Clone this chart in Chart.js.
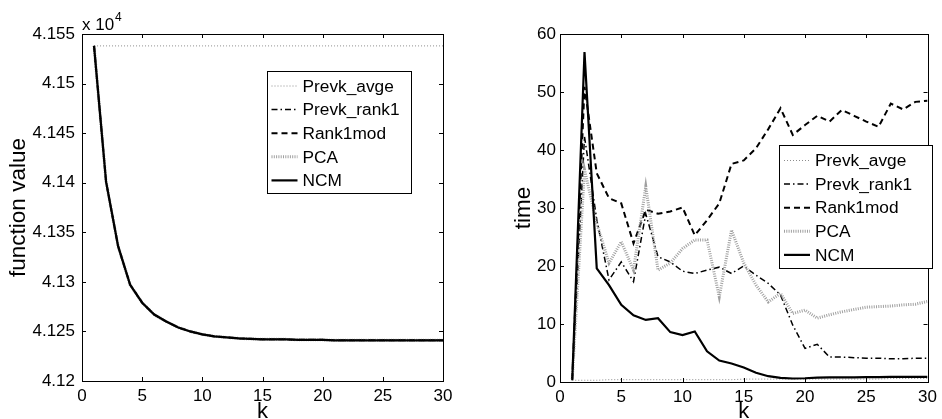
<!DOCTYPE html>
<html>
<head>
<meta charset="utf-8">
<script src="https://cdn.jsdelivr.net/npm/chart.js@4.4.1/dist/chart.umd.min.js"></script>
<style>
  html, body { margin: 0; padding: 0; background: #fff; }
  #wrap { position: relative; width: 942px; height: 419px; }
  .box { position: absolute; top: 0; height: 419px; }
</style>
</head>
<body>
<div id="wrap">
  <div class="box" style="left:0;width:470px"><canvas id="plot1" width="470" height="419"></canvas></div>
  <div class="box" style="left:470px;width:472px"><canvas id="plot2" width="472" height="419"></canvas></div>
</div>
<script>
// datos
const ks = [1,2,3,4,5,6,7,8,9,10,11,12,13,14,15,16,17,18,19,20,21,22,23,24,25,26,27,28,29,30];
const seriesNames = ["Prevk_avge", "Prevk_rank1", "Rank1mod", "PCA", "NCM"];

// izquierda: function value (x 10^4)
const fvAvge = [4.1538,4.1538,4.1538,4.1538,4.1538,4.1538,4.1538,4.1538,4.1538,4.1538,4.1538,4.1538,4.1538,4.1538,4.1538,4.1538,4.1538,4.1538,4.1538,4.1538,4.1538,4.1538,4.1538,4.1538,4.1538,4.1538,4.1538,4.1538,4.1538,4.1538];
const fvCurve = [4.1538,4.1401,4.1336,4.1297,4.1279,4.1267,4.1260,4.1254,4.1250,4.1247,4.1245,4.1244,4.1243,4.12425,4.1242,4.1242,4.1242,4.12415,4.12415,4.12415,4.1241,4.1241,4.1241,4.1241,4.1241,4.1241,4.1241,4.1241,4.1241,4.1241];
const leftYTicks = [4.12, 4.125, 4.13, 4.135, 4.14, 4.145, 4.15, 4.155];

// derecha: time
const tAvge = [0.3,0.3,0.3,0.4,0.4,0.4,0.4,0.4,0.4,0.4,0.4,0.4,0.4,0.4,0.5,0.5,0.5,0.5,0.5,0.5,0.5,0.5,0.5,0.5,0.5,0.5,0.6,0.6,0.6,0.6];
const tRank1 = [0.5,42.3,28,17.6,20.7,17.3,29,21.6,20.7,19.1,18.7,19.3,19.8,18.7,20,18.4,17,15,9.8,5.8,6.5,4.3,4.3,4.2,4.1,4.1,4.0,4.0,4.1,4.1];
const tRank1mod = [0.5,50.9,36,31.7,30.8,23.9,29.7,29,29.4,30.1,25.3,27.9,30.8,37.6,38.2,40.3,43.6,47.2,42.6,44.3,45.9,44.9,46.9,45.9,44.9,44,48,47,48.3,48.5];
const tPCA = [0.5,36.6,27.4,20.5,24.2,19.3,33.7,19.3,20.5,23,24.5,24.5,14.7,26.2,20.5,16.7,13.8,15.3,11.8,12.4,11,11.6,12.1,12.5,12.9,13,13.1,13.3,13.4,13.9];
const tNCM = [0.3,56.9,19.6,16.7,13.3,11.5,10.7,11.0,8.6,8.1,8.7,5.3,3.7,3.2,2.5,1.6,1.0,0.7,0.6,0.65,0.75,0.8,0.8,0.8,0.85,0.85,0.9,0.9,0.9,0.9];
const rightYTicks = [0, 10, 20, 30, 40, 50, 60];
const xTicks = [0, 5, 10, 15, 20, 25, 30];

const FONT = "'Liberation Sans', Arial, Helvetica, sans-serif";

// estilos de linea por serie
const estilos = [
  { color: "#8c8c8c", width: 1, dash: [1, 2] },
  { color: "#000", width: 1.5, dash: [6, 3, 1.5, 3] },
  { color: "#000", width: 2, dash: [6, 4] },
  { color: "#a0a0a0", width: 3, dash: [1, 1.3] },
  { color: "#000", width: 2.2, dash: [] },
];

let puntos = (ys) => ks.map((k, i) => ({ x: k, y: ys[i] }));

let armarDatasets = (listas) =>
  listas.map((ys, i) => ({
    label: seriesNames[i],
    data: puntos(ys),
    borderColor: estilos[i].color,
    borderWidth: estilos[i].width,
    borderDash: estilos[i].dash,
    pointRadius: 0,
    tension: 0,
    fill: false,
    order: 4 - i,
  }));

// caja con ticks hacia adentro (estilo matlab) + leyenda propia
const cajaPlugin = {
  id: "caja",
  afterDraw(chart, args, opts) {
    const ctx = chart.ctx;
    const a = chart.chartArea;
    const xs = chart.scales.x;
    const ys = chart.scales.y;
    ctx.save();
    ctx.strokeStyle = "#000";
    ctx.lineWidth = 1;
    ctx.setLineDash([]);
    ctx.beginPath();
    const tl = 4;
    xs.ticks.forEach((t) => {
      const px = Math.round(xs.getPixelForValue(t.value)) + 0.5;
      ctx.moveTo(px, a.bottom); ctx.lineTo(px, a.bottom - tl);
      ctx.moveTo(px, a.top); ctx.lineTo(px, a.top + tl);
    });
    ys.ticks.forEach((t) => {
      const py = Math.round(ys.getPixelForValue(t.value)) + 0.5;
      ctx.moveTo(a.left, py); ctx.lineTo(a.left + tl, py);
      ctx.moveTo(a.right, py); ctx.lineTo(a.right - tl, py);
    });
    ctx.stroke();
    ctx.strokeRect(Math.round(a.left) + 0.5, Math.round(a.top) + 0.5, Math.round(a.right - a.left), Math.round(a.bottom - a.top));

    // leyenda
    const L = opts.legend;
    if (L) {
      ctx.fillStyle = "#fff";
      ctx.fillRect(L.x, L.y, L.w, L.h);
      ctx.strokeStyle = "#000";
      ctx.lineWidth = 1;
      ctx.strokeRect(Math.round(L.x) + 0.5, Math.round(L.y) + 0.5, L.w, L.h);
      ctx.font = "17.3px " + FONT;
      ctx.textBaseline = "middle";
      ctx.textAlign = "left";
      chart.data.datasets.forEach((ds, i) => {
        const yy = L.y + L.first + i * L.step;
        ctx.strokeStyle = ds.borderColor;
        ctx.lineWidth = ds.borderWidth;
        ctx.setLineDash(ds.borderDash);
        ctx.beginPath();
        ctx.moveTo(L.x + 5, yy);
        ctx.lineTo(L.x + 31, yy);
        ctx.stroke();
        ctx.setLineDash([]);
        ctx.fillStyle = "#000";
        ctx.fillText(ds.label, L.x + 36, yy + 1);
      });
    }

    // multiplicador
    if (opts.multiplier) {
      ctx.fillStyle = "#000";
      ctx.textAlign = "left";
      ctx.textBaseline = "alphabetic";
      ctx.font = "17px " + FONT;
      ctx.fillText("x 10", a.left, a.top - 4);
      ctx.font = "12px " + FONT;
      ctx.fillText("4", a.left + 33, a.top - 13);
    }
    ctx.restore();
  },
};

let escalaX = (altura) => ({
  type: "linear",
  min: 0,
  max: 30,
  afterBuildTicks: (s) => { s.ticks = xTicks.map((v) => ({ value: v })); },
  afterFit: (s) => { s.height = altura; },
  grid: { display: false, drawTicks: false },
  border: { display: false },
  ticks: { color: "#000", font: { family: FONT, size: 17 }, padding: 5, maxRotation: 0 },
  title: { display: true, text: "k", color: "#000", font: { family: FONT, size: 22, lineHeight: 0.6 }, padding: 0 },
});

let crearGrafico = (id, listas, yOpts, layoutPad, legend, multiplier) => {
  let plotRef = document.getElementById(id);
  let config = {
    type: "line",
    data: { datasets: armarDatasets(listas) },
    options: {
      responsive: false,
      animation: false,
      devicePixelRatio: 1,
      layout: { padding: layoutPad },
      plugins: {
        legend: { display: false },
        tooltip: { enabled: false },
        caja: { legend: legend, multiplier: multiplier },
      },
      scales: { x: escalaX(layoutPad.xh), y: yOpts },
    },
    plugins: [cajaPlugin],
  };
  return new Chart(plotRef, config);
};

// grafico 1: function value
crearGrafico(
  "plot1",
  [fvAvge, fvCurve, fvCurve, fvCurve, fvCurve],
  {
    type: "linear",
    min: 4.12,
    max: 4.155,
    afterBuildTicks: (s) => { s.ticks = leftYTicks.map((v) => ({ value: v })); },
    afterFit: (s) => { s.width = 82; },
    grid: { display: false, drawTicks: false },
    border: { display: false },
    ticks: { color: "#000", font: { family: FONT, size: 17 }, padding: 7, callback: (v) => String(v) },
    title: { display: true, text: "function value", color: "#000", font: { family: FONT, size: 22.5 }, padding: { top: 5 } },
  },
  { top: 34, right: 27, left: 0, bottom: 0, xh: 38 },
  { x: 266.5, y: 70.5, w: 144, h: 122, first: 15.5, step: 23.6 },
  true
);

// grafico 2: time
crearGrafico(
  "plot2",
  [tAvge, tRank1, tRank1mod, tPCA, tNCM],
  {
    type: "linear",
    min: 0,
    max: 60,
    afterBuildTicks: (s) => { s.ticks = rightYTicks.map((v) => ({ value: v })); },
    afterFit: (s) => { s.width = 50; },
    grid: { display: false, drawTicks: false },
    border: { display: false },
    ticks: { color: "#000", font: { family: FONT, size: 17 }, padding: 4 },
    title: { display: true, text: "time", color: "#000", font: { family: FONT, size: 22.5 }, padding: { top: 0 } },
  },
  { top: 34, right: 8, left: 40, bottom: 0, xh: 37 },
  { x: 309, y: 145, w: 153, h: 123, first: 15.5, step: 23.6 },
  false
);
</script>
</body>
</html>
